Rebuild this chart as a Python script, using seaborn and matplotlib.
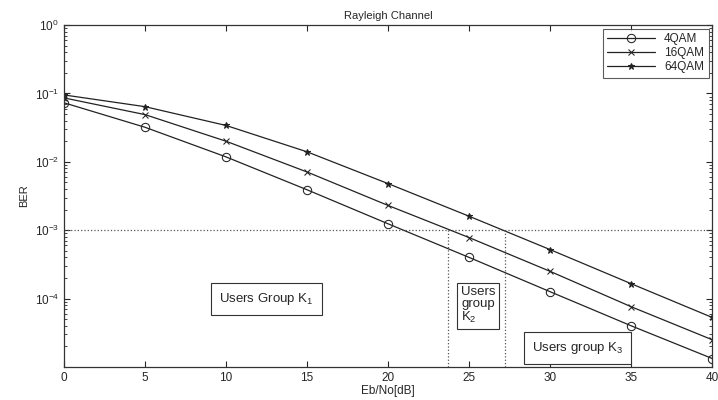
import numpy as np
import pandas as pd
import matplotlib
matplotlib.use("Agg")
import matplotlib.pyplot as plt
import seaborn as sns

# Eb/No grid and BER curves
ebno = [0, 5, 10, 15, 20, 25, 30, 35, 40]
ber_4qam  = [0.073, 0.032, 0.0118, 0.0039, 0.00124, 0.0004, 1.26e-4, 4.0e-5, 1.33e-5]
ber_16qam = [0.086, 0.049, 0.020, 0.0071, 0.0023, 7.8e-4, 2.5e-4, 7.6e-5, 2.5e-5]
ber_64qam = [0.095, 0.064, 0.034, 0.014, 0.0048, 0.0016, 5.2e-4, 1.65e-4, 5.3e-5]
series_names = ["4QAM", "16QAM", "64QAM"]

ber_target = 1e-3
group_bounds = [23.7, 27.2]
y_ticks = [1e0, 1e-1, 1e-2, 1e-3, 1e-4]
y_tick_labels = ["$10^{0}$", "$10^{-1}$", "$10^{-2}$", "$10^{-3}$", "$10^{-4}$"]

df = pd.DataFrame({
    "ebno": ebno * 3,
    "ber": ber_4qam + ber_16qam + ber_64qam,
    "mod": [n for n in series_names for _ in ebno],
})

sns.set_style("ticks")
plt.rcParams["font.family"] = ["Liberation Sans", "DejaVu Sans"]
plt.rcParams["mathtext.fontset"] = "custom"
plt.rcParams["mathtext.rm"] = "Liberation Sans"
plt.rcParams["mathtext.it"] = "Liberation Sans"

fig = plt.figure(figsize=(7.18, 4.0), dpi=100)
ax = fig.add_axes([0.089, 0.0825, 0.903, 0.855])

styles = {"4QAM": dict(marker="o", ms=6, mfc="none"),
          "16QAM": dict(marker="x", ms=4),
          "64QAM": dict(marker="*", ms=5)}
for name in series_names:
    sub = df[df["mod"] == name]
    sns.lineplot(data=sub, x="ebno", y="ber", ax=ax, color="#222222", lw=0.9,
                 mec="#222222", label=name, **styles[name])

ax.set_yscale("log")
ax.set_xlim(0, 40)
ax.set_ylim(1e-5, 1)
ax.set_xticks(range(0, 41, 5))
ax.set_yticks(y_ticks)
ax.set_yticklabels(y_tick_labels)

# threshold lines
ax.axhline(ber_target, color="#555555", ls=":", lw=0.9)
for xb in group_bounds:
    ax.plot([xb, xb], [1e-5, ber_target], color="#555555", ls=":", lw=0.9)

box = dict(boxstyle="square,pad=0.6", facecolor="white", edgecolor="#333333", lw=0.8)
ax.text(12.5, 1e-4, "Users Group K$_1$", ha="center", va="center", fontsize=9.5, bbox=box)
ax.text(24.5, 8e-5, "Users\ngroup\nK$_2$", ha="left", va="center", fontsize=9.5,
        linespacing=1.0, bbox=dict(boxstyle="square,pad=0.3", facecolor="white",
                                   edgecolor="#333333", lw=0.8))
ax.text(31.7, 1.9e-5, "Users group K$_3$", ha="center", va="center", fontsize=9.5, bbox=box)

ax.set_title("Rayleigh Channel", fontsize=8, pad=4)
ax.set_xlabel("Eb/No[dB]", fontsize=8.5, labelpad=1)
ax.set_ylabel("BER", fontsize=8)
ax.tick_params(which="both", direction="in", top=True, right=True, labelsize=8.5)
ax.tick_params(which="major", length=4)
ax.tick_params(which="minor", length=2)
for s in ax.spines.values():
    s.set_linewidth(0.9)
    s.set_color("#333333")

leg = ax.legend(loc="upper right", fontsize=8.5, frameon=True, fancybox=False,
                borderaxespad=0.3, handlelength=4.0, labelspacing=0.15)
leg.get_frame().set_edgecolor("#333333")
leg.get_frame().set_linewidth(0.8)

fig.savefig("out.png", dpi=100)
